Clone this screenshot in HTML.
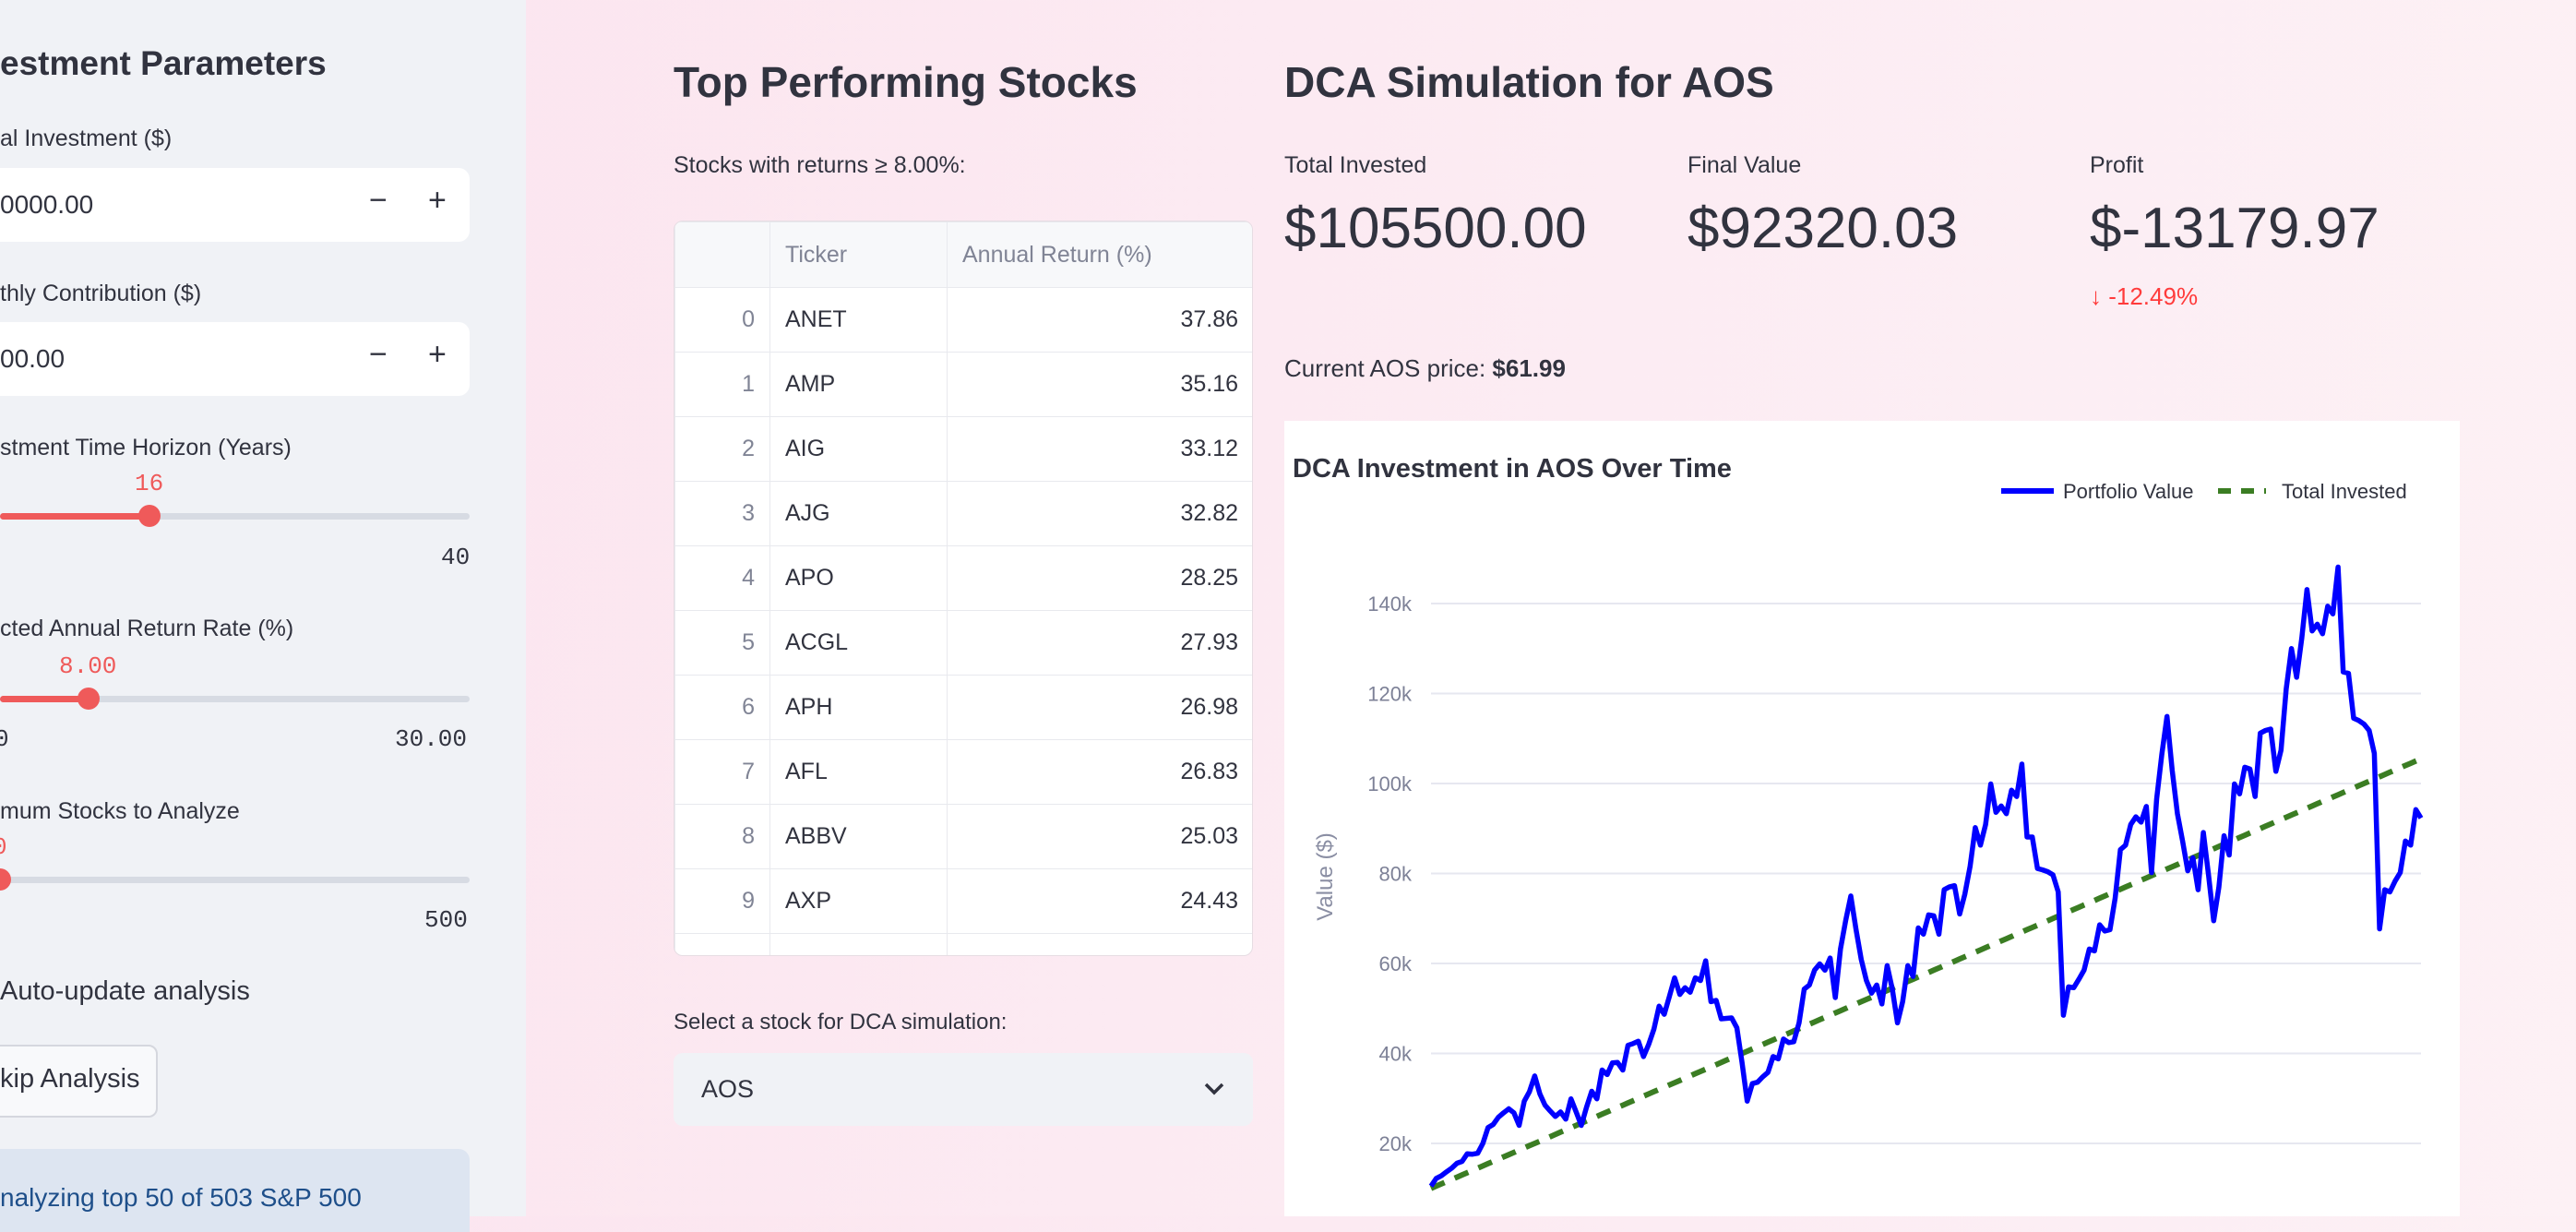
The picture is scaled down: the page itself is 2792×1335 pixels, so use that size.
<!DOCTYPE html>
<html><head><meta charset="utf-8">
<style>
*{margin:0;padding:0;box-sizing:border-box}
body{width:2792px;height:1318px;overflow:hidden;position:relative;font-family:"Liberation Sans",sans-serif;color:#31333f;background:linear-gradient(100deg,#fbe3ee 0%,#fcecf3 60%,#fdf1f5 100%)}
.a{position:absolute;white-space:nowrap}
.side{position:absolute;left:0;top:0;width:570px;height:1318px;background:#f0f2f6}
.lbl{font-size:25px;color:#31333f}
.inp{position:absolute;left:0;width:509px;height:80px;background:#fff;border-radius:0 12px 12px 0}
.mono{font-family:"Liberation Mono",monospace;font-size:26px}
.track{position:absolute;height:7px;background:#d7dbe3;border-radius:4px}
.fill{position:absolute;height:7px;background:#ef5a5a;border-radius:4px}
.thumb{position:absolute;width:24px;height:24px;border-radius:12px;background:#ef5a5a}
table{border-collapse:collapse;font-size:25px}
td{border:1px solid #e8e9ee;height:70px;padding:0 16px}
</style></head><body>
<div class="side">
<div class="a" style="left:0;top:48px;font-size:37px;font-weight:bold">estment Parameters</div>
<div class="a lbl" style="left:0;top:136px">al Investment ($)</div>
<div class="inp" style="top:182px"></div>
<div class="a" style="left:0;top:206px;font-size:28px">0000.00</div>
<div class="a" style="left:400px;top:198px;font-size:34px">−</div>
<div class="a" style="left:464px;top:198px;font-size:34px">+</div>
<div class="a lbl" style="left:0;top:304px">thly Contribution ($)</div>
<div class="inp" style="top:349px"></div>
<div class="a" style="left:0;top:373px;font-size:28px">00.00</div>
<div class="a" style="left:400px;top:365px;font-size:34px">−</div>
<div class="a" style="left:464px;top:365px;font-size:34px">+</div>
<div class="a lbl" style="left:0;top:471px">stment Time Horizon (Years)</div>
<div class="a mono" style="left:146px;top:509px;color:#ef5a5a">16</div>
<div class="track" style="left:0;top:556px;width:509px"></div>
<div class="fill" style="left:0;top:556px;width:162px"></div>
<div class="thumb" style="left:150px;top:547px"></div>
<div class="a mono" style="left:478px;top:589px">40</div>
<div class="a lbl" style="left:0;top:667px">cted Annual Return Rate (%)</div>
<div class="a mono" style="left:64px;top:707px;color:#ef5a5a">8.00</div>
<div class="track" style="left:0;top:754px;width:509px"></div>
<div class="fill" style="left:0;top:754px;width:96px"></div>
<div class="thumb" style="left:84px;top:745px"></div>
<div class="a mono" style="left:-6px;top:786px">0</div>
<div class="a mono" style="left:428px;top:786px">30.00</div>
<div class="a lbl" style="left:0;top:865px">mum Stocks to Analyze</div>
<div class="a mono" style="left:-8px;top:903px;color:#ef5a5a">0</div>
<div class="track" style="left:0;top:950px;width:509px"></div>
<div class="thumb" style="left:-12px;top:941px"></div>
<div class="a mono" style="left:460px;top:982px">500</div>
<div class="a" style="left:0;top:1058px;font-size:29px">Auto-update analysis</div>
<div class="a" style="left:-20px;top:1132px;width:191px;height:79px;border:2px solid #d5d7de;border-radius:10px;background:#f8f9fb"></div>
<div class="a" style="left:0;top:1153px;font-size:29px">kip Analysis</div>
<div class="a" style="left:0;top:1245px;width:509px;height:90px;background:#dde5f1;border-radius:0 12px 0 0"></div>
<div class="a" style="left:0;top:1282px;font-size:28px;color:#1e4f8a">nalyzing top 50 of 503 S&amp;P 500</div>
</div>

<div class="a" style="left:730px;top:62px;font-size:46px;font-weight:bold">Top Performing Stocks</div>
<div class="a" style="left:730px;top:165px;font-size:25px">Stocks with returns ≥ 8.00%:</div>
<div class="a" style="left:730px;top:239px;width:628px;height:797px;overflow:hidden;border:1px solid #e6dde3;border-radius:10px;background:#fff">
<table style="width:628px">
<tr style="background:#f7f8fa;color:#808495"><td style="width:103px;height:71px"></td><td style="width:192px">Ticker</td><td>Annual Return (%)</td></tr>
<tbody id="tb"></tbody>
</table></div>
<div class="a" style="left:730px;top:1094px;font-size:24px">Select a stock for DCA simulation:</div>
<div class="a" style="left:730px;top:1141px;width:628px;height:79px;background:#f0f2f6;border-radius:10px"></div>
<div class="a" style="left:760px;top:1165px;font-size:27px">AOS</div>
<svg class="a" style="left:1304px;top:1172px" width="24" height="16"><path d="M3 3 L12 12 L21 3" stroke="#31333f" stroke-width="3.5" fill="none"/></svg>

<div class="a" style="left:1392px;top:62px;font-size:46px;font-weight:bold">DCA Simulation for AOS</div>
<div class="a" style="left:1392px;top:165px;font-size:25px">Total Invested</div>
<div class="a" style="left:1829px;top:165px;font-size:25px">Final Value</div>
<div class="a" style="left:2265px;top:165px;font-size:25px">Profit</div>
<div class="a" style="left:1392px;top:212px;font-size:62px">$105500.00</div>
<div class="a" style="left:1829px;top:212px;font-size:62px">$92320.03</div>
<div class="a" style="left:2265px;top:212px;font-size:62px">$-13179.97</div>
<div class="a" style="left:2265px;top:306px;font-size:26px;color:#ff3b3b">↓ -12.49%</div>
<div class="a" style="left:1392px;top:384px;font-size:26px">Current AOS price: <b>$61.99</b></div>

<svg class="a" style="left:1392px;top:456px" width="1274" height="862" id="chart">
<rect width="1274" height="862" fill="#fff"/>
<text x="9" y="61" font-size="29" font-weight="bold" fill="#31333f" font-family="Liberation Sans,sans-serif">DCA Investment in AOS Over Time</text>
<line x1="777" y1="76" x2="834" y2="76" stroke="#0000ff" stroke-width="6"/>
<text x="844" y="84" font-size="22" fill="#31333f" font-family="Liberation Sans,sans-serif">Portfolio Value</text>
<line x1="1012" y1="76" x2="1064" y2="76" stroke="#3b7d23" stroke-width="6" stroke-dasharray="14 11"/>
<text x="1081" y="84" font-size="22" fill="#31333f" font-family="Liberation Sans,sans-serif">Total Invested</text>
<text transform="translate(52,494) rotate(-90)" text-anchor="middle" font-size="24" fill="#8a8ea3" font-family="Liberation Sans,sans-serif">Value ($)</text>
<g id="grid"></g><g id="lines"></g>
</svg>

<script>
var tickers=["ANET","AMP","AIG","AJG","APO","ACGL","APH","AFL","ABBV","AXP","AMT"];
var returns=[37.86,35.16,33.12,32.82,28.25,27.93,26.98,26.83,25.03,24.43,24.10];
var yTicks=[20000,40000,60000,80000,100000,120000,140000];
var yTickLabels=["20k","40k","60k","80k","100k","120k","140k"];
var portfolio=[10.5,12.2,12.8,13.7,14.5,15.6,16.0,17.7,17.6,17.8,20.0,23.5,24.2,25.8,26.8,27.7,26.8,24.0,29.4,31.5,35.0,31.0,28.5,27.2,26.0,27.0,25.4,29.9,27.0,24.0,28.0,31.6,29.9,36.3,35.3,37.9,38.0,36.3,41.8,42.2,42.7,39.3,42.0,45.4,50.5,48.7,52.7,56.8,53.1,54.6,53.6,56.8,56.2,60.6,51.5,51.8,47.7,47.8,47.9,45.7,38.0,29.4,33.3,33.6,34.8,35.8,39.3,38.8,43.2,42.4,42.6,46.8,54.3,55.2,58.5,59.9,58.5,61.2,52.4,63.2,69.5,75.0,67.5,60.9,56.2,53.4,55.2,51.0,59.5,54.3,46.8,51.5,59.5,57.1,67.9,66.5,70.8,70.6,66.5,76.4,77.0,77.3,71.0,75.4,81.6,90.2,86.3,90.9,99.9,93.6,95.0,93.3,98.5,97.1,104.3,88.1,88.1,81.1,80.8,80.4,79.7,75.9,48.5,54.8,54.6,56.5,58.5,63.2,62.8,68.6,67.2,67.5,74.5,85.3,86.3,90.9,92.6,91.4,94.9,80.2,96.6,106.5,114.9,103.0,93.3,87.2,80.6,83.5,76.4,89.1,79.7,69.5,76.9,88.4,84.1,99.9,97.7,103.6,103.2,97.1,111.2,111.8,112.1,102.7,107.4,121.0,130.0,123.6,132.3,143.1,133.9,135.4,133.3,139.4,137.7,148.1,124.8,124.5,114.5,114.0,113.2,111.8,106.7,67.7,76.4,75.9,78.3,80.2,87.2,86.3,94.2,92.3];
var initialInvestment=10000, monthlyContribution=500;

var tb=document.getElementById('tb');
for(var i=0;i<tickers.length;i++){
  var tr=document.createElement('tr');
  
  
  tr.innerHTML='<td style="text-align:right;color:#808495">'+i+'</td><td>'+tickers[i]+'</td><td style="text-align:right">'+returns[i].toFixed(2)+'</td>';
  tb.appendChild(tr);
}
var NS='http://www.w3.org/2000/svg';
var x0=159,x1=1232,n=portfolio.length;
function X(i){return x0+i*(x1-x0)/(n-1);}
function Y(v){return 783-(v-20000)*97.5/20000;}
var grid=document.getElementById('grid');
yTicks.forEach(function(t,k){
  var l=document.createElementNS(NS,'line');
  l.setAttribute('x1',x0);l.setAttribute('x2',x1);l.setAttribute('y1',Y(t));l.setAttribute('y2',Y(t));
  l.setAttribute('stroke','#e6e7f0');l.setAttribute('stroke-width','2');
  
  
  grid.appendChild(l);
  var tx=document.createElementNS(NS,'text');
  tx.setAttribute('x',138);tx.setAttribute('y',Y(t)+8);tx.setAttribute('text-anchor','end');
  tx.setAttribute('font-size','22');tx.setAttribute('fill','#7d8197');tx.setAttribute('font-family','Liberation Sans,sans-serif');
  tx.textContent=yTickLabels[k];
  
  
  grid.appendChild(tx);
});
var lines=document.getElementById('lines');
var inv=[],pv=[];
for(var i=0;i<n;i++){
  inv.push(X(i).toFixed(1)+','+Y(initialInvestment+monthlyContribution*i).toFixed(1));
  pv.push(X(i).toFixed(1)+','+Y(portfolio[i]*1000).toFixed(1));
}
var g=document.createElementNS(NS,'polyline');
g.setAttribute('points',inv.join(' '));g.setAttribute('fill','none');g.setAttribute('stroke','#3b7d23');
g.setAttribute('stroke-width','6');g.setAttribute('stroke-dasharray','16 12');


lines.appendChild(g);
var b=document.createElementNS(NS,'polyline');
b.setAttribute('points',pv.join(' '));b.setAttribute('fill','none');b.setAttribute('stroke','#0000ff');
b.setAttribute('stroke-width','5.5');b.setAttribute('stroke-linejoin','round');


lines.appendChild(b);
</script>
</body></html>
